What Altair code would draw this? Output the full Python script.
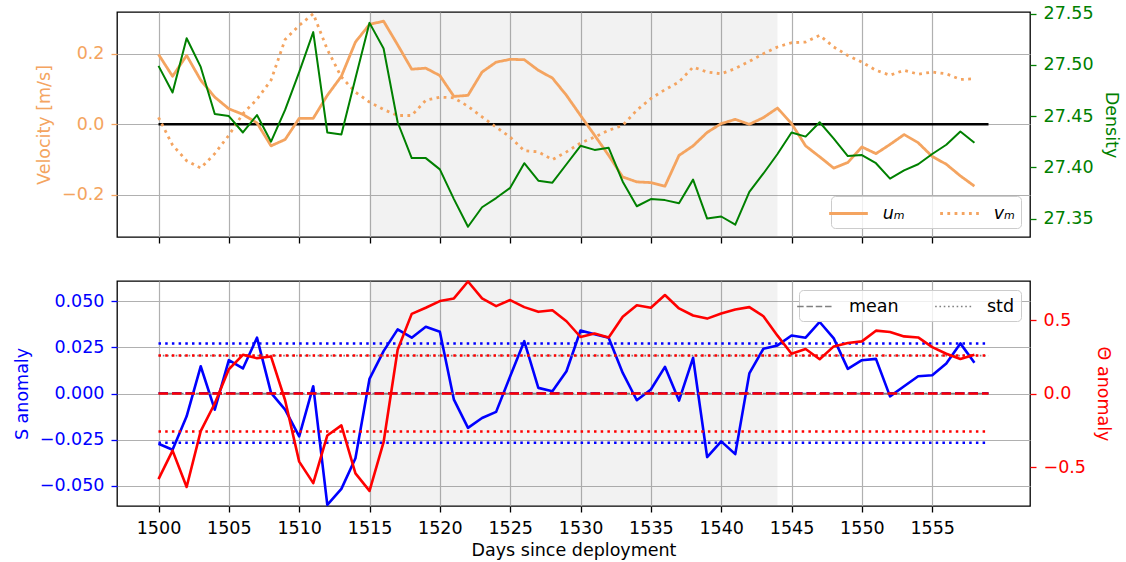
import altair as alt
import pandas as pd

# ---- data -------------------------------------------------------------
days = list(range(1500, 1559))

u_m = [0.198, 0.136, 0.195, 0.125, 0.077, 0.044, 0.028, 0.004, -0.061, -0.043,
       0.017, 0.017, 0.082, 0.136, 0.233, 0.283, 0.292, 0.225, 0.156, 0.159,
       0.138, 0.079, 0.082, 0.148, 0.176, 0.184, 0.183, 0.153, 0.131, 0.082,
       0.025, -0.031, -0.088, -0.149, -0.163, -0.165, -0.175, -0.088, -0.061, -0.023,
       0.002, 0.014, 0.000, 0.019, 0.046, 0.002, -0.061, -0.092, -0.124, -0.108,
       -0.064, -0.083, -0.057, -0.029, -0.052, -0.091, -0.113, -0.146, -0.175]

v_m = [0.020, -0.059, -0.103, -0.124, -0.083, -0.031, 0.030, 0.071, 0.125, 0.240,
       0.280, 0.313, 0.212, 0.134, 0.091, 0.063, 0.042, 0.025, 0.025, 0.068,
       0.077, 0.075, 0.051, 0.021, -0.008, -0.036, -0.075, -0.078, -0.100, -0.078,
       -0.053, -0.036, -0.017, -0.003, 0.040, 0.073, 0.098, 0.120, 0.162, 0.148,
       0.143, 0.158, 0.178, 0.200, 0.219, 0.231, 0.233, 0.252, 0.219, 0.195,
       0.176, 0.153, 0.139, 0.153, 0.142, 0.148, 0.143, 0.127, 0.129]

density = [27.499, 27.473, 27.526, 27.498, 27.452, 27.450, 27.434, 27.451, 27.425, 27.456,
           27.493, 27.532, 27.434, 27.432, 27.487, 27.541, 27.516, 27.444, 27.409, 27.409,
           27.398, 27.369, 27.342, 27.361, 27.370, 27.380, 27.404, 27.387, 27.385, 27.403,
           27.421, 27.417, 27.419, 27.386, 27.362, 27.369, 27.368, 27.365, 27.388, 27.350,
           27.352, 27.344, 27.376, 27.394, 27.413, 27.434, 27.430, 27.444, 27.428, 27.411,
           27.412, 27.404, 27.389, 27.397, 27.403, 27.413, 27.422, 27.435, 27.424]

s_anom = [-0.0272, -0.0304, -0.0123, 0.0148, -0.0087, 0.0181, 0.0136, 0.0303, 0.0004, -0.0087,
          -0.0232, 0.0040, -0.0603, -0.0516, -0.0350, 0.0080, 0.0230, 0.0348, 0.0303, 0.0362,
          0.0335, -0.0033, -0.0186, -0.0132, -0.0099, 0.0094, 0.0284, 0.0031, 0.0013, 0.0121,
          0.0342, 0.0321, 0.0303, 0.0112, -0.0036, 0.0022, 0.0145, -0.0038, 0.0194, -0.0344,
          -0.0259, -0.0328, 0.0109, 0.0243, 0.0261, 0.0315, 0.0303, 0.0388, 0.0299, 0.0134,
          0.0181, 0.0188, -0.0015, 0.0040, 0.0094, 0.0099, 0.0163, 0.0272, 0.0167]

theta_anom = [-0.581, -0.387, -0.634, -0.255, -0.067, 0.166, 0.264, 0.241, 0.252, -0.045,
              -0.462, -0.608, -0.284, -0.216, -0.542, -0.661, -0.330, 0.298, 0.542, 0.584,
              0.629, 0.647, 0.762, 0.647, 0.595, 0.636, 0.588, 0.556, 0.567, 0.492,
              0.385, 0.408, 0.382, 0.522, 0.601, 0.584, 0.670, 0.579, 0.531, 0.510,
              0.545, 0.572, 0.588, 0.526, 0.394, 0.271, 0.303, 0.234, 0.321, 0.344,
              0.355, 0.428, 0.419, 0.389, 0.382, 0.316, 0.271, 0.236, 0.264]

shade_span = [1515, 1544]
hline_span = [1500, 1559]
s_mean, s_std = 0.0003, 0.0269
t_mean, t_std = 0.001, 0.258
x_ticks = list(range(1500, 1560, 5))

# ---- style ------------------------------------------------------------
FONT = "DejaVu Sans"
FS = 17.5
ORANGE = "#F4A460"
W, H = 913, 225

xscale = alt.Scale(domain=[1497.05, 1561.95], nice=False, zero=False)


def x_enc(field, bottom):
    kw = dict(values=x_ticks, grid=True, labels=bottom, format="d", tickColor="black",
              labelColor="black", titleColor="black")
    kw["title"] = "Days since deployment" if bottom else None
    return alt.X(field, type="quantitative", scale=xscale, axis=alt.Axis(**kw))


def y_axis(title, color, values, fmt, orient="left", grid=True):
    return alt.Axis(title=title, titleColor=color, labelColor=color, tickColor=color,
                    values=values, format=fmt, orient=orient, grid=grid)


# ---- tables -----------------------------------------------------------
span_df = pd.DataFrame({"x1": [shade_span[0]], "x2": [shade_span[1]]})
vel_df = pd.DataFrame({"day": days * 2, "vel": u_m + v_m,
                       "series": ["uₘ"] * len(days) + ["vₘ"] * len(days)})
zero_df = pd.DataFrame({"x1": [hline_span[0]], "x2": [hline_span[1]], "vel": [0.0]})
dens_df = pd.DataFrame({"day": days, "density": density})
s_df = pd.DataFrame({"day": days, "S": s_anom})
t_df = pd.DataFrame({"day": days, "theta": theta_anom})
s_mean_df = pd.DataFrame({"x1": [hline_span[0]], "x2": [hline_span[1]], "S": [s_mean]})
s_std_df = pd.DataFrame({"x1": [hline_span[0]] * 2, "x2": [hline_span[1]] * 2,
                         "S": [s_mean + s_std, s_mean - s_std]})
t_mean_df = pd.DataFrame({"x1": [hline_span[0]], "x2": [hline_span[1]], "theta": [t_mean]})
t_std_df = pd.DataFrame({"x1": [hline_span[0]] * 2, "x2": [hline_span[1]] * 2,
                         "theta": [t_mean + t_std, t_mean - t_std]})
key_df = pd.DataFrame({"x1": [hline_span[0]] * 2, "x2": [hline_span[1]] * 2,
                       "theta": [t_mean, t_mean + t_std], "kind": ["mean", "std"]})

# ---- top panel: velocity and density -----------------------------------
vel_y = alt.Y("vel:Q", scale=alt.Scale(domain=[-0.319, 0.318], nice=False, zero=False),
              axis=y_axis("Velocity [m/s]", ORANGE, [-0.2, 0.0, 0.2], ".1f"))
dens_y = alt.Y("density:Q", scale=alt.Scale(domain=[27.332, 27.5516], nice=False, zero=False),
               axis=y_axis("Density", "green", [27.35, 27.40, 27.45, 27.50, 27.55], ".2f",
                           orient="right", grid=False))

shade_top = alt.Chart(span_df).mark_rect(color="gray", opacity=0.1).encode(
    x=x_enc("x1", False), x2="x2:Q", y=alt.value(0), y2=alt.value(H))
zero_line = alt.Chart(zero_df).mark_rule(color="black", strokeWidth=2.4).encode(
    x=x_enc("x1", False), x2="x2:Q", y=vel_y)
vel_lines = alt.Chart(vel_df).mark_line(color=ORANGE, strokeWidth=2.8, strokeJoin="round").encode(
    x=x_enc("day", False), y=vel_y,
    strokeDash=alt.StrokeDash(
        "series:N",
        scale=alt.Scale(domain=["uₘ", "vₘ"], range=[[1, 0], [2.8, 4.4]]),
        legend=alt.Legend(
            title=None, orient="bottom-right", offset=9, direction="horizontal", columns=2,
            symbolType="M-2,0H2", symbolSize=374,
            symbolStrokeWidth=2.8, symbolStrokeColor=ORANGE,
            labelOffset=22.7, columnPadding=29, padding=6,
            labelFontSize=FS, labelFont=FONT, labelFontStyle="italic", labelColor="black",
            fillColor="rgba(255,255,255,0.8)", strokeColor="#cccccc", cornerRadius=4)))
dens_line = alt.Chart(dens_df).mark_line(color="green", strokeWidth=2.0, strokeJoin="round").encode(
    x=x_enc("day", False), y=dens_y)

top = alt.layer(
    alt.layer(shade_top, zero_line, vel_lines),
    dens_line,
).resolve_scale(y="independent").properties(width=W, height=H)

# ---- bottom panel: salinity and temperature anomalies -------------------
s_y = alt.Y("S:Q", scale=alt.Scale(domain=[-0.0609, 0.0610], nice=False, zero=False),
            axis=y_axis("S anomaly", "blue", [-0.05, -0.025, 0.0, 0.025, 0.05], ".3f"))
t_y = alt.Y("theta:Q", scale=alt.Scale(domain=[-0.7635, 0.7655], nice=False, zero=False),
            axis=y_axis("Θ anomaly", "red", [-0.5, 0.0, 0.5], ".1f", orient="right", grid=False))

shade_bot = alt.Chart(span_df).mark_rect(color="gray", opacity=0.1).encode(
    x=x_enc("x1", True), x2="x2:Q", y=alt.value(0), y2=alt.value(H))
s_line = alt.Chart(s_df).mark_line(color="blue", strokeWidth=2.6, strokeJoin="round").encode(
    x=x_enc("day", True), y=s_y)
s_mean_line = alt.Chart(s_mean_df).mark_rule(color="blue", strokeWidth=2.3, strokeDash=[9.5, 4]).encode(
    x=x_enc("x1", True), x2="x2:Q", y=s_y)
s_std_lines = alt.Chart(s_std_df).mark_rule(color="blue", strokeWidth=2.5, strokeDash=[2.5, 4.2]).encode(
    x=x_enc("x1", True), x2="x2:Q", y=s_y)

key_lines = alt.Chart(key_df).mark_rule(color="gray", strokeWidth=1.7).encode(
    x=x_enc("x1", True), x2="x2:Q", y=t_y,
    strokeDash=alt.StrokeDash(
        "kind:N",
        scale=alt.Scale(domain=["mean", "std"], range=[[6.5, 2.8], [1.6, 2.7]]),
        legend=alt.Legend(
            title=None, orient="top-right", offset=9, direction="horizontal", columns=2,
            symbolType="M-2,0H2", symbolSize=337,
            symbolStrokeWidth=1.7, symbolStrokeColor="gray",
            labelOffset=23, columnPadding=32, padding=6,
            labelFontSize=FS, labelFont=FONT, labelColor="black",
            fillColor="rgba(255,255,255,0.8)", strokeColor="#cccccc", cornerRadius=4)))
t_line = alt.Chart(t_df).mark_line(color="red", strokeWidth=2.6, strokeJoin="round").encode(
    x=x_enc("day", True), y=t_y)
t_mean_line = alt.Chart(t_mean_df).mark_rule(color="red", strokeWidth=2.3, strokeDash=[9.5, 4]).encode(
    x=x_enc("x1", True), x2="x2:Q", y=t_y)
t_std_lines = alt.Chart(t_std_df).mark_rule(color="red", strokeWidth=2.5, strokeDash=[2.5, 4.2]).encode(
    x=x_enc("x1", True), x2="x2:Q", y=t_y)

bottom = alt.layer(
    alt.layer(shade_bot, s_line, s_mean_line, s_std_lines),
    alt.layer(key_lines, t_line, t_mean_line, t_std_lines),
).resolve_scale(y="independent").properties(width=W, height=H)

chart = alt.vconcat(top, bottom, spacing=34).resolve_scale(
    strokeDash="independent"
).properties(
    padding={"left": 12, "top": 3, "right": 4, "bottom": 4}
).configure(
    font=FONT,
).configure_view(
    stroke="black", strokeWidth=1.3,
).configure_axis(
    labelFont=FONT, labelFontSize=FS, titleFont=FONT, titleFontSize=FS,
    titleFontWeight="normal", domain=False, tickSize=6, tickWidth=1.3,
    labelPadding=7, titlePadding=8, gridColor="#b0b0b0", gridWidth=1.2,
    gridOpacity=1,
).configure_axisX(
    titlePadding=5,
)

chart.save("out.html", embed_options={"renderer": "svg", "actions": False})
